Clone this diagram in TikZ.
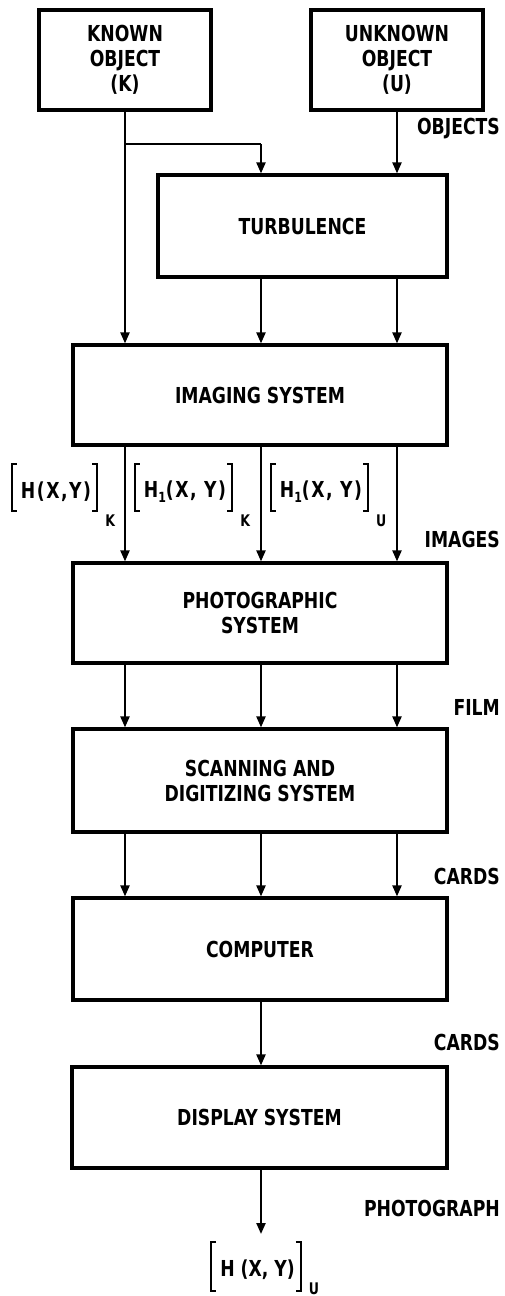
\documentclass[tikz,border=0pt]{standalone}
\usepackage{fontspec}
\IfFontExistsTF{DejaVu Sans Condensed}{\setmainfont{DejaVu Sans Condensed}[FakeStretch=0.87]}{\setmainfont{DejaVu Sans}[FakeStretch=0.75]}
\usetikzlibrary{arrows.meta,calc}
\newcommand{\lbl}{\fontsize{22}{25}\selectfont\bfseries}
\newcommand{\sublbl}{\fontsize{16}{16}\selectfont\bfseries}
\newcommand{\one}{\raisebox{-5pt}{\fontsize{14}{14}\selectfont 1}}
\tikzset{
  box/.style={draw, line width=3.2pt, inner sep=0pt, align=center, font=\lbl},
  arr/.style={line width=2.2pt, -{Triangle[length=11pt,width=9pt]}},
  ln/.style={line width=2.2pt},
  side/.style={anchor=east, inner sep=0pt, font=\lbl},
  formula/.style={inner sep=0pt, font=\lbl},
  wideformula/.style={inner sep=0pt, font=\lbl\addfontfeatures{LetterSpace=7}},
  subs/.style={inner sep=0pt, font=\sublbl},
  brack/.style={line width=2pt},
}
% brackets around a formula node: #1 node name, #2 top offset, #3 height
\newcommand{\brackets}[3]{%
  \draw[brack] ($(#1.west)+(-4,#2)$) -- ++(-5,0) -- ++(0,-#3) -- ++(5,0);
  \draw[brack] ($(#1.east)+(1,#2)$) -- ++(5,0) -- ++(0,-#3) -- ++(-5,0);
}
\begin{document}
\begin{tikzpicture}[x=1pt,y=1pt]
\useasboundingbox (0,0) rectangle (505,-1296);
\coordinate (c1) at (125,0);
\coordinate (c2) at (261,0);
\coordinate (c3) at (397,0);
\node[box, minimum width=172pt, minimum height=100pt] (known) at (125,-60) {KNOWN\\OBJECT\\(K)};
\node[box, minimum width=172pt, minimum height=100pt] (unknown) at (397,-60) {UNKNOWN\\OBJECT\\(U)};
\node[box, minimum width=289pt, minimum height=102pt] (turb) at (302.5,-226) {TURBULENCE};
\node[box, minimum width=374pt, minimum height=100pt] (imaging) at (260,-395) {IMAGING SYSTEM};
\node[box, minimum width=374pt, minimum height=100pt] (photo) at (260,-613) {PHOTOGRAPHIC\\SYSTEM};
\node[box, minimum width=374pt, minimum height=103pt] (scan) at (260,-780.5) {SCANNING AND\\DIGITIZING SYSTEM};
\node[box, minimum width=374pt, minimum height=102pt] (comp) at (260,-949) {COMPUTER};
\node[box, minimum width=375pt, minimum height=101pt] (disp) at (259.5,-1117.5) {DISPLAY SYSTEM};
% side labels
\node[side] (lobj) at (500,-129) {OBJECTS};
\node[side] (limg) at (500,-539) {IMAGES};
\node[side] (lfilm) at (500,-707) {FILM};
\node[side] (lcards1) at (500,-876) {CARDS};
\node[side] (lcards2) at (500,-1042) {CARDS};
\node[side] (lphoto) at (500,-1208) {PHOTOGRAPH};
% formula labels
\node[wideformula] (hk) at (56,-492) {H(X,Y)};
\node[wideformula] (h1k) at (185,-492) {H\one(X, Y)};
\node[wideformula] (h1u) at (321,-492) {H\one(X, Y)};
\node[formula] (hu) at (257.5,-1270) {H (X, Y)};
\brackets{hk}{28}{47}
\brackets{h1k}{28}{47}
\brackets{h1u}{28}{47}
\brackets{hu}{28}{49}
\node[subs] (hkK) at ($(hk.east)+(19,-29)$) {K};
\node[subs] (h1kK) at ($(h1k.east)+(19,-29)$) {K};
\node[subs] (h1uU) at ($(h1u.east)+(19,-29)$) {U};
\node[subs] (huU) at ($(hu.east)+(19,-19)$) {U};
% connectors
\coordinate (split) at (125,-144);
\draw[arr] (known.south) -- (known.south |- imaging.north);
\draw[ln] (split) -- (c2 |- split);
\draw[arr] (c2 |- split) -- (c2 |- turb.north);
\draw[arr] (unknown.south) -- (c3 |- turb.north);
\draw[arr] (c2 |- turb.south) -- (c2 |- imaging.north);
\draw[arr] (c3 |- turb.south) -- (c3 |- imaging.north);
\foreach \c in {c1,c2,c3}{
  \draw[arr] (\c |- imaging.south) -- (\c |- photo.north);
  \draw[arr] (\c |- photo.south) -- (\c |- scan.north);
  \draw[arr] (\c |- scan.south) -- (\c |- comp.north);
}
\draw[arr] (c2 |- comp.south) -- (c2 |- disp.north);
\coordinate (out) at (261,-1234);
\draw[arr] (c2 |- disp.south) -- (out);
\end{tikzpicture}
\end{document}
